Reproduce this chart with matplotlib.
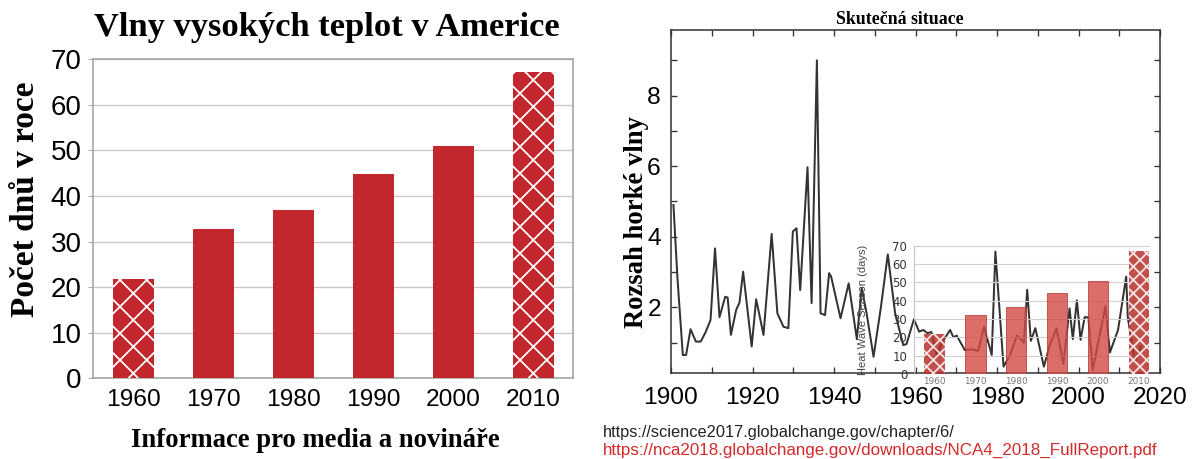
import numpy as np
import matplotlib.pyplot as plt
from matplotlib.ticker import MultipleLocator

plt.rcParams['hatch.linewidth'] = 1.6

# levý graf: počet dnů v roce po dekádách
decades = ['1960', '1970', '1980', '1990', '2000', '2010']
days = [21.7, 32.7, 36.9, 44.8, 51.0, 67.3]
hatched = [True, False, False, False, False, True]

# pravý graf: rozsah horké vlny
years = [1900.6, 1901.6, 1902.9, 1903.7, 1904.8, 1906.1, 1907.3, 1908.5, 1909.7, 1910.8,
         1911.9, 1913.3, 1913.9, 1914.7, 1916.0, 1916.8, 1917.7, 1919.8, 1920.9, 1922.7,
         1924.7, 1926.1, 1927.6, 1928.8, 1929.9, 1930.8, 1931.7, 1933.5, 1934.5, 1935.8,
         1936.7, 1937.8, 1938.8, 1939.3, 1941.6, 1943.6, 1945.6, 1946.8, 1948.0, 1949.7,
         1951.5, 1953.2, 1955.0, 1957.0, 1957.8, 1959.6, 1960.9, 1961.9, 1962.9, 1963.9,
         1965.2, 1966.5, 1968.5, 1969.3, 1970.1, 1972.1, 1973.7, 1975.4, 1976.8, 1978.7,
         1979.6, 1981.6, 1983.2, 1984.9, 1986.6, 1987.4, 1988.3, 1989.4, 1991.5, 1993.0,
         1994.6, 1996.3, 1997.8, 1998.6, 1999.6, 2000.5, 2001.5, 2002.4, 2003.5, 2006.6,
         2007.7, 2009.7, 2011.7, 2012.1, 2013.9, 2015.3]
extent = [4.9, 2.8, 0.65, 0.65, 1.38, 1.03, 1.03, 1.3, 1.64, 3.67,
          1.72, 2.3, 2.28, 1.22, 1.93, 2.13, 3.01, 0.89, 2.23, 1.22,
          4.08, 1.83, 1.45, 1.41, 4.15, 4.24, 2.49, 5.97, 2.12, 9.0,
          1.83, 1.78, 2.97, 2.87, 1.69, 2.68, 1.1, 2.55, 1.83, 0.6,
          2.0, 3.5, 1.83, 0.93, 0.96, 1.66, 1.31, 1.36, 1.27, 1.3,
          0.65, 1.0, 1.36, 1.15, 1.2, 0.79, 0.81, 0.77, 1.45, 0.65,
          3.58, 0.32, 0.65, 1.2, 1.0, 2.5, 1.05, 1.41, 0.32, 0.95,
          1.4, 0.4, 1.97, 1.1, 2.2, 1.08, 1.72, 1.72, 0.23, 2.03,
          0.72, 1.36, 2.87, 1.7, 0.45, 0.9]

# vložený graf (Heat Wave Season)
inset_days = [21.8, 32.2, 36.7, 44.4, 50.7, 67.1]

serif = 'Liberation Serif'
sans = 'Liberation Sans'
red = '#c1272d'

fig = plt.figure(figsize=(1198 / 80, 459 / 80), dpi=80)

# ---------- levý graf ----------
ax1 = fig.add_axes([0.0779, 0.1758, 0.4007, 0.695])
x = np.arange(len(decades))
for i in range(len(decades)):
    if hatched[i]:
        ax1.bar(x[i], days[i], width=0.51, color=red, edgecolor='white', hatch='x', linewidth=0, zorder=3)
    else:
        ax1.bar(x[i], days[i], width=0.51, color=red, linewidth=0, zorder=3)
ax1.set_xlim(-0.5, 5.5)
ax1.set_ylim(0, 70)
ax1.set_yticks(range(0, 71, 10))
ax1.set_xticks(x)
ax1.set_xticklabels(decades)
ax1.yaxis.grid(True, color='#c8c8c8', linewidth=1.2, zorder=0)
for s in ax1.spines.values():
    s.set_color('#a0a0a0')
    s.set_linewidth(1.4)
ax1.tick_params(axis='y', length=4.5, color='#a0a0a0', pad=6, labelsize=25)
ax1.tick_params(axis='x', length=0, pad=10, labelsize=22)
for lab in ax1.get_xticklabels() + ax1.get_yticklabels():
    lab.set_family(sans)
fig.text(0.0215, 0.566, 'Počet dnů v roce', fontsize=30, family=serif, fontweight='bold',
         rotation=90, ha='center', va='center')
fig.text(0.2725, 0.939, 'Vlny vysokých teplot v Americe', fontsize=31, family=serif,
         fontweight='bold', ha='center', va='center')
fig.text(0.263, 0.041, 'Informace pro media a novináře', fontsize=24, family=serif,
         fontweight='bold', ha='center', va='center')

# ---------- pravý graf ----------
ax2 = fig.add_axes([0.5601, 0.1874, 0.4082, 0.7473])
ax2.plot(years, extent, color='#333333', linewidth=1.8, zorder=2)
ax2.set_xlim(1900, 2020)
ax2.set_ylim(0.14, 9.86)
ax2.xaxis.set_major_locator(MultipleLocator(20))
ax2.xaxis.set_minor_locator(MultipleLocator(10))
ax2.yaxis.set_major_locator(MultipleLocator(2))
ax2.yaxis.set_minor_locator(MultipleLocator(1))
ax2.tick_params(which='both', direction='in', top=True, right=True, length=5.5, width=1.2,
                color='#333333', labelsize=22)
ax2.tick_params(axis='x', which='major', pad=13)
ax2.tick_params(axis='y', which='major', pad=9)
for lab in ax2.get_xticklabels() + ax2.get_yticklabels():
    lab.set_family(sans)
for s in ax2.spines.values():
    s.set_color('#333333')
    s.set_linewidth(1.4)
fig.text(0.751, 0.957, 'Skutečná situace', fontsize=16, family=serif, fontweight='bold',
         ha='center', va='center')
fig.text(0.531, 0.516, 'Rozsah horké vlny', fontsize=24, family=serif, fontweight='bold',
         rotation=90, ha='center', va='center')

# ---------- vložený graf ----------
ax3 = fig.add_axes([0.7629, 0.1852, 0.197, 0.2795])
ax3.patch.set_visible(False)
for i in range(len(decades)):
    if hatched[i]:
        ax3.bar(i, inset_days[i], width=0.5, color='#b8302c', edgecolor='white', hatch='xx',
                linewidth=0, alpha=0.85, zorder=3)
    else:
        ax3.bar(i, inset_days[i], width=0.5, color='#d34a43', edgecolor='#b0302c',
                linewidth=0.8, alpha=0.8, zorder=3)
ax3.set_xlim(-0.5, 5.27)
ax3.set_ylim(0, 70)
ax3.set_yticks(range(0, 71, 10))
ax3.set_xticks(range(len(decades)))
ax3.set_xticklabels(decades)
ax3.yaxis.grid(True, color='#d0d0d0', linewidth=1.0, zorder=0)
ax3.spines['top'].set_visible(False)
ax3.spines['right'].set_visible(False)
ax3.spines['bottom'].set_visible(False)
ax3.spines['left'].set_color('#bbbbbb')
ax3.tick_params(axis='y', length=0, pad=6, labelsize=10.5, labelcolor='#333333')
ax3.tick_params(axis='x', length=0, pad=3, labelsize=8, labelcolor='#777777')
ax3.set_ylabel('Heat Wave Season (days)', fontsize=10, color='#444444', family=sans)
ax3.yaxis.set_label_coords(-0.195, 0.5)

# zdroje
fig.text(0.5035, 0.057, 'https://science2017.globalchange.gov/chapter/6/', fontsize=14.7,
         family=sans, color='#222222', ha='left', va='center')
fig.text(0.5035, 0.019, 'https://nca2018.globalchange.gov/downloads/NCA4_2018_FullReport.pdf',
         fontsize=15.3, family=sans, color='#d42a2a', ha='left', va='center')

fig.savefig('out.png', dpi=80)
